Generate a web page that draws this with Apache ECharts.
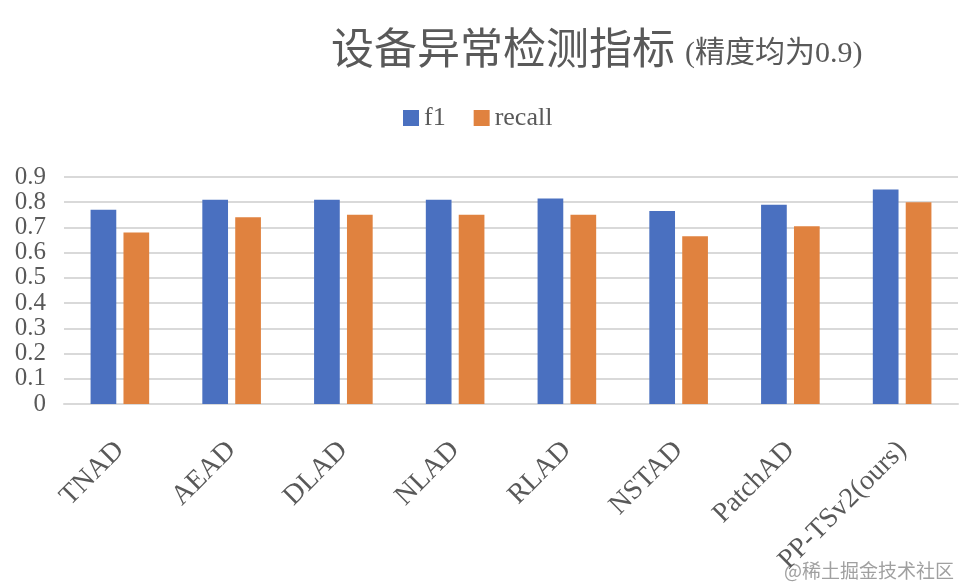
<!DOCTYPE html>
<html lang="zh">
<head>
    <meta charset="UTF-8">
    <title>设备异常检测指标</title>
    <style>
        html, body { margin: 0; padding: 0; background: #fff; }
        #main { width: 960px; height: 585px; }
    </style>
</head>
<body>
    <div id="main"></div>
    <script src="https://cdn.jsdelivr.net/npm/echarts@6/dist/echarts.min.js"></script>
    <script>
    // 数据
    var categories = ['TNAD', 'AEAD', 'DLAD', 'NLAD', 'RLAD', 'NSTAD', 'PatchAD', 'PP-TSv2(ours)'];
    var f1 = [0.77, 0.81, 0.81, 0.81, 0.815, 0.765, 0.79, 0.85];
    var recall = [0.68, 0.74, 0.75, 0.75, 0.75, 0.665, 0.705, 0.80];
    var yTicks = [0, 0.1, 0.2, 0.3, 0.4, 0.5, 0.6, 0.7, 0.8, 0.9];

    var serif = "'Liberation Serif', 'Noto Sans CJK SC', serif";
    var grey = '#595959';

    var myChart = echarts.init(document.getElementById('main'));
    var option = {
        animation: false,
        color: ['#4a70c0', '#e0823f'],
        title: {
            text: '{a|设备异常检测指标}  {b|(精度均为0.9)}',
            left: 326,
            top: 6,
            textStyle: {
                fontWeight: 'normal',
                rich: {
                    a: { fontSize: 43, color: grey, fontWeight: 'normal', fontFamily: "'Noto Sans CJK SC', sans-serif", verticalAlign: 'bottom', lineHeight: 58 },
                    b: { fontSize: 30, color: grey, fontWeight: 'normal', fontFamily: serif, verticalAlign: 'bottom', lineHeight: 48 }
                }
            }
        },
        legend: {
            data: ['f1', 'recall'],
            left: 398,
            top: 100,
            itemWidth: 16,
            itemHeight: 16,
            itemGap: 28,
            icon: 'rect',
            textStyle: { fontSize: 26, color: grey, fontFamily: serif }
        },
        grid: {
            left: 64,
            right: 2,
            top: 177,
            bottom: 181
        },
        xAxis: {
            type: 'category',
            data: categories,
            axisTick: { show: false },
            axisLine: { lineStyle: { color: '#d9d9d9', width: 2 } },
            axisLabel: {
                interval: 0,
                rotate: 45,
                margin: 42,
                fontSize: 28,
                color: grey,
                fontFamily: serif
            }
        },
        yAxis: {
            type: 'value',
            min: 0,
            max: 0.9,
            interval: 0.1,
            axisLine: { show: false },
            axisTick: { show: false },
            splitLine: { lineStyle: { color: '#d9d9d9', width: 2 } },
            axisLabel: {
                margin: 18,
                fontSize: 25,
                color: grey,
                fontFamily: serif,
                formatter: function (v) {
                    var t = yTicks.find(function (x) { return Math.abs(x - v) < 1e-6; });
                    return t === 0 ? '0' : String(+v.toFixed(1));
                }
            }
        },
        series: [
            {
                name: 'f1',
                type: 'bar',
                barWidth: '23%',
                barGap: '28%',
                data: f1
            },
            {
                name: 'recall',
                type: 'bar',
                barWidth: '23%',
                data: recall
            }
        ],
        graphic: [
            {
                type: 'text',
                right: 6,
                bottom: 5,
                style: {
                    text: '@稀土掘金技术社区',
                    fontSize: 19,
                    fill: '#a0a0a0',
                    fontFamily: "'Noto Sans CJK SC', sans-serif"
                }
            }
        ]
    };
    myChart.setOption(option);
    </script>
</body>
</html>
